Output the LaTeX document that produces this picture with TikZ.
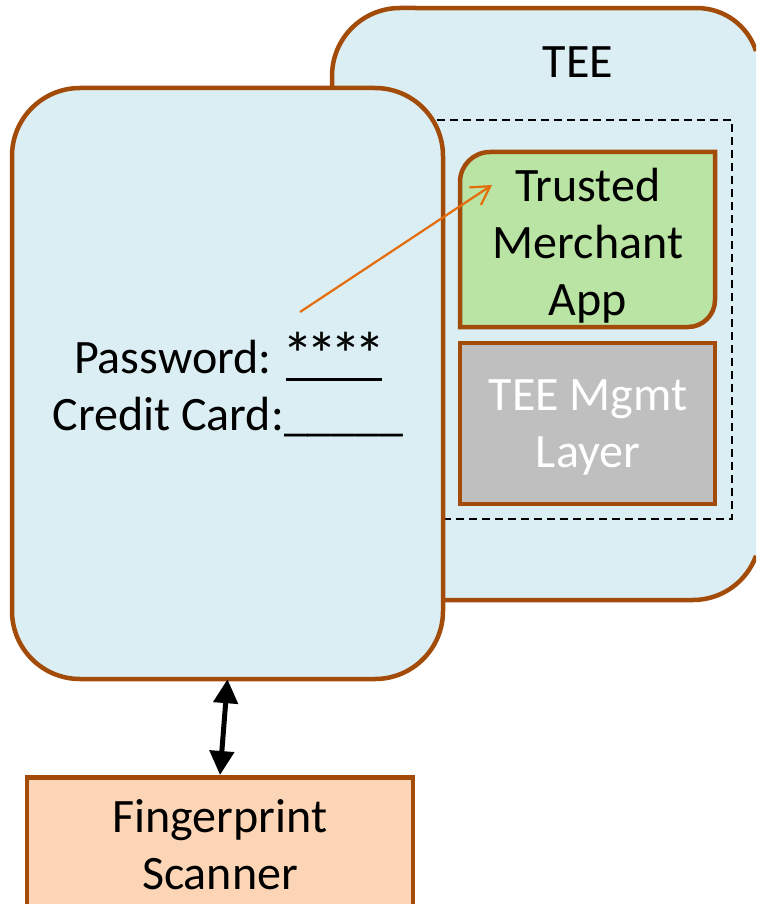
\documentclass[tikz,border=0pt]{standalone}
\usepackage{fontspec}
\setmainfont{Carlito}
\usetikzlibrary{arrows.meta}

\definecolor{rim}{RGB}{163,76,10}
\definecolor{paneblue}{RGB}{219,238,243}
\definecolor{appgreen}{RGB}{186,228,163}
\definecolor{mgmtgray}{RGB}{191,191,191}
\definecolor{peach}{RGB}{251,213,181}
\definecolor{flow}{RGB}{228,108,10}

% an input field: four characters sitting on a ruled slot
\newcommand\slotcell[1]{\makebox[24pt][c]{#1}}
\newcommand\fieldslot[1]{%
  \rlap{\smash{\rule[-7pt]{96pt}{3pt}}}%
  \slotcell{#1}\slotcell{#1}\slotcell{#1}\slotcell{#1}}
\newcommand\maskchar{\smash{\raisebox{-3pt}{\scalebox{1.3}{*}}}}

\tikzset{
  panel/.style={draw=rim, line width=4.5pt, fill=paneblue, rounded corners=68pt},
  label/.style={font=\fontsize{48}{57}\selectfont, align=center, inner sep=0pt},
  blk/.style={draw=rim, line width=4.5pt, rectangle, inner sep=0pt},
}

\begin{document}
\begin{tikzpicture}[x=1pt, y=-1pt]
  \useasboundingbox (0,0) rectangle (756,904);
  \clip (0,0) rectangle (756,904);

  % secure world behind the phone; its right side runs off the page,
  % so the outline is left open there (the fill closes itself)
  \draw[draw=rim, line width=4.5pt, fill=paneblue]
    (756,51) arc[start angle=17.9, end angle=90, radius=62pt]
    -- (400,8) arc[start angle=90, end angle=180, radius=68pt]
    -- (332,532) arc[start angle=180, end angle=270, radius=68pt]
    -- (693,600) arc[start angle=-90, end angle=-19.9, radius=67pt];
  \node[label] (tee) at (578,62) {TEE};

  % trusted execution region
  \draw[black, line width=2pt, dash pattern=on 8pt off 5pt] (400,120) rectangle (732,519);

  % trusted merchant application (two rounded corners)
  \draw[draw=rim, line width=4.5pt, fill=appgreen]
    (460,182) arc[start angle=180, end angle=90, radius=30pt] -- (715,152)
    -- (715,300) arc[start angle=0, end angle=-90, radius=27pt] -- (460,327) -- cycle;
  \node[label] (app) at (588,246) {Trusted\\Merchant\\App};

  % management layer
  \node[blk, fill=mgmtgray, minimum width=255pt, minimum height=161pt] (mgmt) at (587.5,423.5) {};
  \node[label, text=white] at (588,427) {TEE Mgmt\\Layer};

  % normal-world phone screen
  \draw[panel] (12,88) rectangle (443,679);
  \node[inner sep=0pt, minimum width=431pt, minimum height=591pt] (phone) at (227.5,383.5) {};
  \node[label] (form) at (228,389)
    {Password: \fieldslot{\maskchar}\\Credit Card:\_\_\_\_\_};

  % fingerprint scanner
  \node[blk, fill=peach, minimum width=386pt, minimum height=160pt, anchor=north] (scan) at (220,775) {};
  \node[label] at (220,845) {Fingerprint\\Scanner};

  % data flow into the trusted app
  \coordinate (src) at (300,312);
  \coordinate (dst) at (492,185);
  \draw[flow, line width=2.2pt, -{Straight Barb[length=18pt, width=21pt, line width=2.2pt]}] (src) -- (dst);

  % link between phone and scanner
  \draw[black, line width=5pt, {Triangle[length=24pt, width=24pt]}-{Triangle[length=24pt, width=24pt]}]
    (phone.south) -- (scan.north);
\end{tikzpicture}
\end{document}
